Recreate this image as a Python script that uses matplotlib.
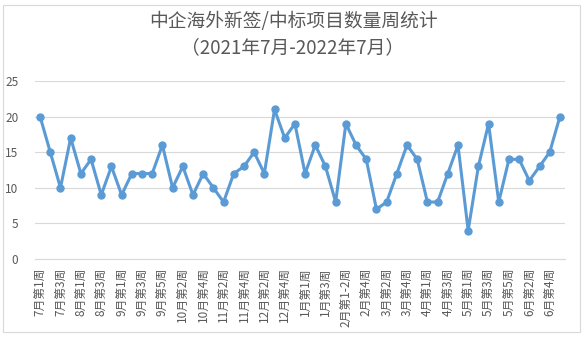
import matplotlib
matplotlib.use("Agg")
import matplotlib.pyplot as plt
from matplotlib.patches import Rectangle

plt.rcParams['font.family'] = ['Noto Sans CJK SC', 'DejaVu Sans']

weeks = ['7月第1周', '7月第2周', '7月第3周', '7月第4周',
         '8月第1周', '8月第2周', '8月第3周', '8月第4周',
         '9月第1周', '9月第2周', '9月第3周', '9月第4周', '9月第5周',
         '10月第1周', '10月第2周', '10月第3周', '10月第4周',
         '11月第1周', '11月第2周', '11月第3周', '11月第4周',
         '12月第1周', '12月第2周', '12月第3周', '12月第4周', '12月第5周',
         '1月第1周', '1月第2周', '1月第3周', '1月第4周',
         '2月第1-2周', '2月第3周', '2月第4周',
         '3月第1周', '3月第2周', '3月第3周', '3月第4周', '3月第5周',
         '4月第1周', '4月第2周', '4月第3周', '4月第4周',
         '5月第1周', '5月第2周', '5月第3周', '5月第4周', '5月第5周',
         '6月第1周', '6月第2周', '6月第3周', '6月第4周', '6月第5周']
counts = [20, 15, 10, 17, 12, 14, 9, 13, 9, 12, 12, 12, 16, 10, 13, 9, 12, 10,
          8, 12, 13, 15, 12, 21, 17, 19, 12, 16, 13, 8, 19, 16, 14, 7, 8, 12,
          16, 14, 8, 8, 12, 16, 4, 13, 19, 8, 14, 14, 11, 13, 15, 20]

grey = '#595959'
fig = plt.figure(figsize=(5.86, 3.39), dpi=100)
fig.patches.append(Rectangle((0.005, 0.02), 0.985, 0.965, transform=fig.transFigure,
                             fill=False, edgecolor='#d9d9d9', linewidth=0.8))
ax = fig.add_axes([35/586, 1 - 259/339, 530/586, 178/339])

x = list(range(len(counts)))
ax.plot(x, counts, color='#5B9BD5', linewidth=2.2, marker='o', markersize=5,
        markerfacecolor='#5B9BD5', markeredgecolor='#5B9BD5')

ax.set_xlim(-0.5, len(counts) - 0.5)
ax.set_ylim(0, 25)
ax.set_yticks([0, 5, 10, 15, 20, 25])
ax.set_xticks(x[::2])
ax.set_xticklabels(weeks[::2], rotation=90, fontsize=8.5, color=grey)
ax.tick_params(axis='y', length=0, labelsize=8.5, labelcolor=grey, pad=12)
ax.tick_params(axis='x', length=0, pad=6)
ax.grid(axis='y', color='#d9d9d9', linewidth=0.8)
ax.set_axisbelow(True)
for s in ['top', 'right', 'left']:
    ax.spines[s].set_visible(False)
ax.spines['bottom'].set_color('#d9d9d9')

fig.text(0.5, 1 - 22/339, '中企海外新签/中标项目数量周统计', ha='center', va='center',
         fontsize=13.5, color=grey)
fig.text(0.5, 1 - 48/339, '（2021年7月-2022年7月）', ha='center', va='center',
         fontsize=13.5, color=grey)

fig.savefig('out.png', dpi=100)
